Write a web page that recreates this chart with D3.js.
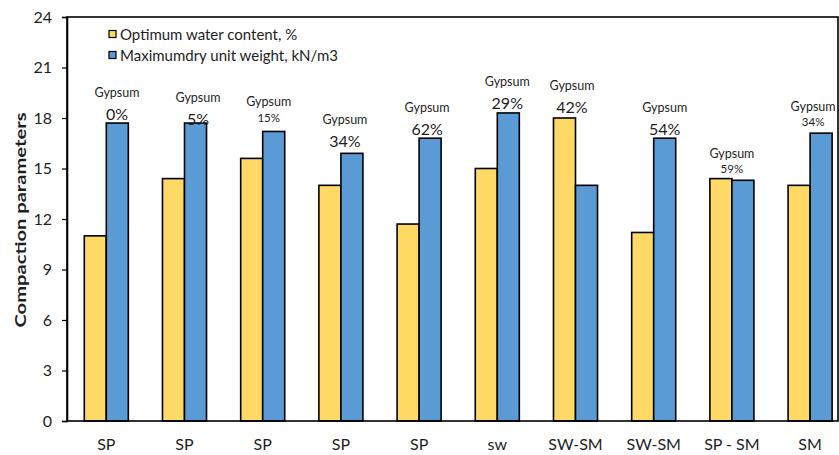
<!DOCTYPE html>
<html>
<head>
<meta charset="utf-8">
<script src="https://cdn.jsdelivr.net/npm/d3@7"></script>
<style>
  html, body { margin: 0; padding: 0; background: #fff; }
  svg { display: block; font-family: Lato, "Open Sans", sans-serif; }
</style>
</head>
<body>
<svg id="chart" width="839" height="455"></svg>
<script>
// ---- data ----
const categories = ["SP", "SP", "SP", "SP", "SP", "sw", "SW-SM", "SW-SM", "SP - SM", "SM"];
const optimumWater = [11.0, 14.4, 15.6, 14.0, 11.7, 15.0, 18.0, 11.2, 14.4, 14.0];
const maxDryUnitWeight = [17.7, 17.7, 17.2, 15.9, 16.8, 18.3, 14.0, 16.8, 14.3, 17.1];
const gypsumLabels = ["0%", "5%", "15%", "34%", "62%", "29%", "42%", "54%", "59%", "34%"];
const yTicks = [0, 3, 6, 9, 12, 15, 18, 21, 24];
const seriesNames = ["Optimum water content, %", "Maximumdry unit weight, kN/m3"];

// ---- layout / style (not data) ----
const colors = ["#FFD966", "#5B9BD5"];
const bigLabel = [true, true, false, true, true, true, true, true, false, false];
const annotDx = [10.7, 13.5, 6, 4, 8, 10, -3.5, 11, 0, 3];     // px nudges from group centre
const annotGap = [10, 5, 14, 13, 10, 10.7, 11.7, 10, 10, 11.6]; // px above tallest bar
const textColor = "#1e1e1e";

const svg = d3.select("#chart");
const plot = { left: 67, right: 838, top: 17, bottom: 421 };

const x = d3.scaleBand()
  .domain(d3.range(categories.length))
  .range([67.2, 849.2])
  .paddingInner(0.437)
  .paddingOuter(0.2185);

const xs = d3.scaleBand().domain([0, 1]).range([0, x.bandwidth()]).padding(0);

const y = d3.scaleLinear().domain([0, 24]).range([plot.bottom, plot.top]);

// bars
const groups = svg.append("g").selectAll("g")
  .data(categories.map((c, i) => ({ i, vals: [optimumWater[i], maxDryUnitWeight[i]] })))
  .join("g")
  .attr("transform", d => `translate(${x(d.i)},0)`);

groups.selectAll("rect")
  .data(d => d.vals.map((v, k) => ({ v, k })))
  .join("rect")
  .attr("x", d => xs(d.k))
  .attr("width", xs.bandwidth())
  .attr("y", d => y(d.v))
  .attr("height", d => y(0) - y(d.v))
  .attr("fill", d => colors[d.k])
  .attr("stroke", "#000")
  .attr("stroke-width", 1.6);

// frame
svg.append("rect")
  .attr("x", plot.left).attr("y", plot.top)
  .attr("width", plot.right - plot.left).attr("height", plot.bottom - plot.top)
  .attr("fill", "none").attr("stroke", "#000").attr("stroke-width", 1.6);

// y axis
const yAxis = svg.append("g")
  .attr("transform", `translate(${plot.left},0)`)
  .call(d3.axisLeft(y).tickValues(yTicks).tickSize(5).tickPadding(10).tickFormat(d3.format("d")));
yAxis.select(".domain").attr("stroke", "#000").attr("stroke-width", 1.6);
yAxis.selectAll(".tick line").attr("stroke", "#000").attr("stroke-width", 1.2);
yAxis.selectAll(".tick text").attr("fill", textColor).style("font-size", "16px").style("font-family", "Lato, sans-serif");

// x labels
const xAxis = svg.append("g")
  .attr("transform", `translate(0,${plot.bottom})`)
  .call(d3.axisBottom(x).tickSize(0).tickPadding(18).tickFormat(i => categories[i]));
xAxis.select(".domain").remove();
xAxis.selectAll(".tick text").attr("fill", textColor).style("font-size", "16px").style("font-family", "Lato, sans-serif");

// axis title
svg.append("text")
  .attr("transform", `translate(26,${(plot.top + plot.bottom) / 2 + 1}) rotate(-90)`)
  .attr("text-anchor", "middle")
  .attr("fill", textColor)
  .style("font-size", "16px")
  .style("font-weight", "bold")
  .attr("textLength", 215)
  .attr("lengthAdjust", "spacingAndGlyphs")
  .text("Compaction parameters");

// annotations
const ann = svg.append("g");
categories.forEach((c, i) => {
  const cx = x(i) + x.bandwidth() / 2 + annotDx[i];
  const top = y(Math.max(optimumWater[i], maxDryUnitWeight[i])) - annotGap[i];
  const big = bigLabel[i];
  ann.append("text")
    .attr("x", cx).attr("y", top)
    .attr("text-anchor", "middle").attr("dominant-baseline", "central")
    .attr("fill", textColor)
    .style("font-size", big ? "16px" : "11.5px")
    .text(gypsumLabels[i]);
  ann.append("text")
    .attr("x", cx).attr("y", top - (big ? 20.5 : 15.5))
    .attr("text-anchor", "middle").attr("dominant-baseline", "central")
    .attr("fill", textColor)
    .style("font-size", "12.5px")
    .text("Gypsum");
});

// legend
const leg = svg.append("g").attr("transform", "translate(109,34)");
seriesNames.forEach((s, k) => {
  const g = leg.append("g").attr("transform", `translate(0,${k * 21})`);
  g.append("rect").attr("x", 0).attr("y", -3.5).attr("width", 7).attr("height", 7)
    .attr("fill", colors[k]).attr("stroke", "#000").attr("stroke-width", 1.2);
  g.append("text").attr("x", 11).attr("y", 0).attr("dominant-baseline", "central")
    .attr("fill", textColor).style("font-size", "15px").text(s);
});
</script>
</body>
</html>
